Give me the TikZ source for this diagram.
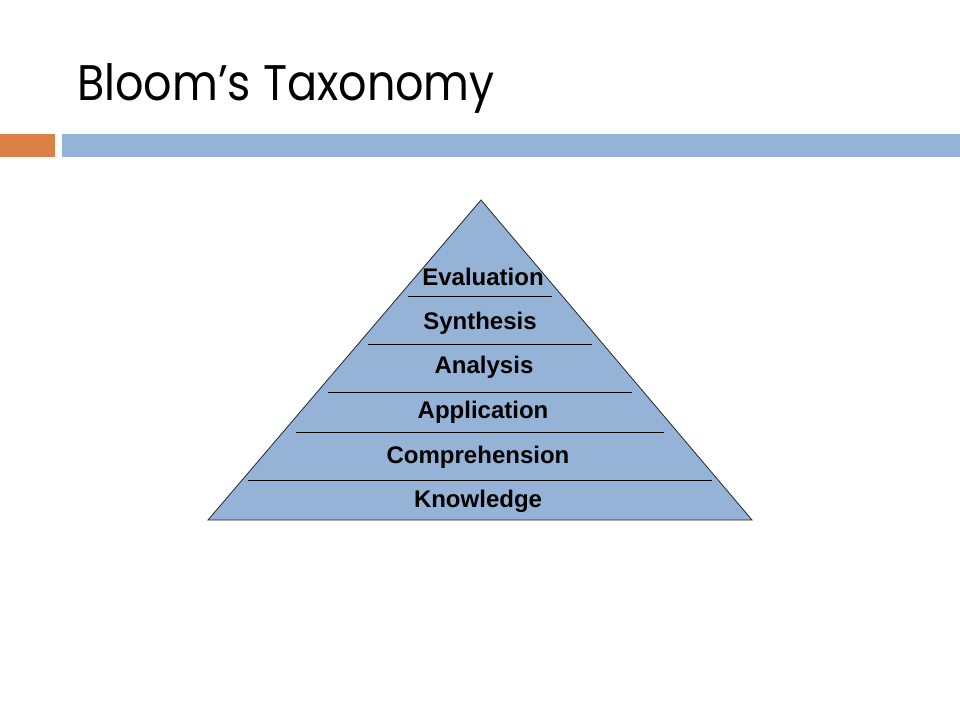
\documentclass[tikz,border=0pt]{standalone}
\usepackage{fontspec}
\setmainfont{Liberation Sans}
\newfontfamily\titlefont{Poppins}
\usepackage{tikz}
\usetikzlibrary{positioning}
\definecolor{pyramidblue}{HTML}{95B3D7}
\definecolor{barorange}{HTML}{DD8047}
\tikzstyle{level} = [font=\fontsize{24}{28}\selectfont\bfseries, inner sep=0pt, anchor=base]
\tikzstyle{divider} = [black, line width=0.8pt]

\begin{document}
\begin{tikzpicture}[x=1pt,y=-1pt]
            \useasboundingbox (0,0) rectangle (960,720);
            \node (title) [anchor=base west, inner sep=0pt, font=\titlefont\fontsize{50}{58}\selectfont] at (77,100) {\scalebox{0.89}[1]{Bloom’s Taxonomy}};
            \fill [barorange] (0,134) rectangle (55,157);
            \fill [pyramidblue] (62,134) rectangle (960,157);
    
            \coordinate (apex) at (481,200);
            \coordinate (baseleft) at (208,520);
            \coordinate (baseright) at (752,520);
            \draw [fill=pyramidblue, draw=black!85, line width=0.8pt] (apex) -- (baseleft) -- (baseright) -- cycle;
    
            \draw [divider] (408,296) -- (552,296);
            \draw [divider] (368,344) -- (592,344);
            \draw [divider] (328,392) -- (632,392);
            \draw [divider] (296,432) -- (664,432);
            \draw [divider] (248,480) -- (712,480);
    
            \node (evaluation) [level] at (483,285) {Evaluation};
            \node (synthesis) [level] at (480,329) {Synthesis};
            \node (analysis) [level] at (484,373) {Analysis};
            \node (application) [level] at (483,418) {Application};
            \node (comprehension) [level] at (478,463) {Comprehension};
            \node (knowledge) [level] at (478,507) {Knowledge};
        \end{tikzpicture}
\end{document}
